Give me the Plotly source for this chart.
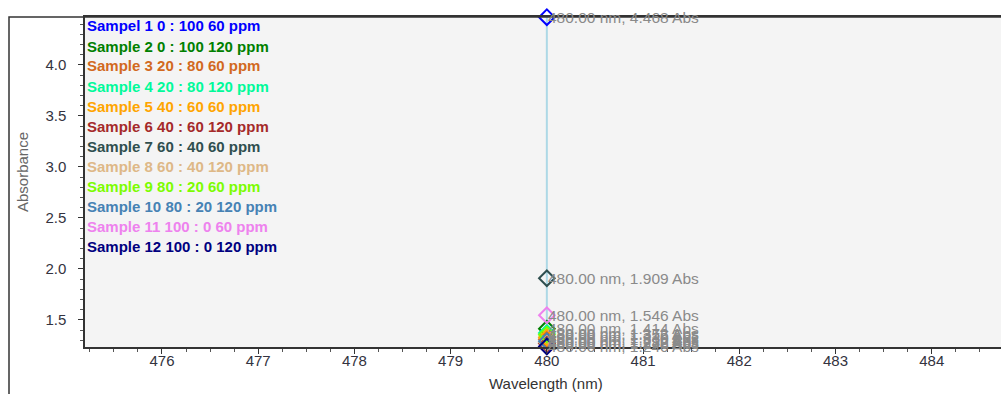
import plotly.graph_objects as go

# ---- data ----
sample_names = [
    "Sampel 1 0 : 100 60 ppm",
    "Sample 2 0 : 100 120 ppm",
    "Sample 3 20 : 80 60 ppm",
    "Sample 4 20 : 80 120 ppm",
    "Sample 5 40 : 60 60 ppm",
    "Sample 6 40 : 60 120 ppm",
    "Sample 7 60 : 40 60 ppm",
    "Sample 8 60 : 40 120 ppm",
    "Sample 9 80 : 20 60 ppm",
    "Sample 10 80 : 20 120 ppm",
    "Sample 11 100 : 0 60 ppm",
    "Sample 12 100 : 0 120 ppm",
]
wavelength_nm = 480.0
absorbance = [4.468, 1.414, 1.310, 1.372, 1.330, 1.270, 1.909, 1.282, 1.356, 1.292, 1.546, 1.240]

colors = ["#0000FF", "#008000", "#D2691E", "#00FA9A", "#FFA500", "#A52A2A",
          "#2F4F4F", "#DEB887", "#7CFC00", "#4682B4", "#EE82EE", "#000080"]

x_range = [475.2, 484.72]
y_range = [1.235, 4.47]

FONT = "Liberation Sans, Arial, sans-serif"

fig = go.Figure()

# cursor line at the selected wavelength
fig.add_trace(go.Scatter(
    x=[wavelength_nm, wavelength_nm], y=[y_range[0], y_range[1]],
    mode="lines", line=dict(color="#ADD8E6", width=2),
    showlegend=False, hoverinfo="skip", cliponaxis=False))

for name, val, col in zip(sample_names, absorbance, colors):
    fig.add_trace(go.Scatter(
        x=[wavelength_nm], y=[val], mode="markers", name=name,
        marker=dict(symbol="diamond-open", size=12, color=col, line=dict(width=2, color=col)),
        showlegend=False, cliponaxis=False))
    fig.add_annotation(
        x=wavelength_nm, y=val, xref="x", yref="y",
        text=f"{wavelength_nm:.2f} nm, {val:.3f} Abs",
        showarrow=False, xanchor="left", yanchor="middle", xshift=-1,
        font=dict(family=FONT, size=15.5, color="#8a8a8a"))

# coloured legend text
for i, (name, col) in enumerate(zip(sample_names, colors)):
    fig.add_annotation(
        x=0.0, y=1 - (9 + 20 * i) / 330, xref="paper", yref="paper",
        text=f"<b>{name}</b>", showarrow=False, xanchor="left", yanchor="middle",
        font=dict(family=FONT, size=15, color=col))

# axis titles
fig.add_annotation(x=(22 - 85) / 916, y=(347 - 172) / 330, xref="paper", yref="paper",
                   text="Absorbance", textangle=-90, showarrow=False,
                   xanchor="center", yanchor="middle",
                   font=dict(family=FONT, size=15, color="#666666"))
fig.add_annotation(x=(546 - 85) / 916, y=(347 - 383) / 330, xref="paper", yref="paper",
                   text="Wavelength (nm)", showarrow=False,
                   xanchor="center", yanchor="middle",
                   font=dict(family=FONT, size=15, color="#333333"))

# outer frame
fig.add_shape(type="rect", xref="paper", yref="paper",
              x0=-76 / 916, x1=1.2, y0=-0.5, y1=1.0,
              line=dict(color="#333333", width=1.5), layer="above")

fig.update_layout(
    width=1001, height=394,
    margin=dict(l=85, r=0, t=17, b=47),
    paper_bgcolor="white", plot_bgcolor="#F4F4F4",
    font=dict(family=FONT, size=15, color="#333333"),
    xaxis=dict(
        range=x_range, dtick=1, tick0=476, showgrid=False, zeroline=False, automargin=False,
        showline=True, linecolor="#333333", linewidth=1.5, mirror=True,
        ticks="outside", ticklen=5, tickcolor="#333333", ticklabelstandoff=-6,
        minor=dict(dtick=0.25, ticks="outside", ticklen=3, tickcolor="#555555"),
        tickfont=dict(family=FONT, size=15, color="#333340"),
    ),
    yaxis=dict(
        range=y_range, dtick=0.5, tick0=1.5, tickformat=".1f", showgrid=False, zeroline=False,
        automargin=False,
        showline=True, linecolor="#333333", linewidth=1.5,
        ticks="outside", ticklen=5, tickcolor="#333333", ticklabelstandoff=9,
        minor=dict(dtick=0.1, ticks="outside", ticklen=3, tickcolor="#555555"),
        tickfont=dict(family=FONT, size=15, color="#333340"),
    ),
)

fig.write_html(
    "out.html",
    config={"displayModeBar": False},
    post_script="document.body.style.margin='0';document.body.style.overflow='hidden';",
)
